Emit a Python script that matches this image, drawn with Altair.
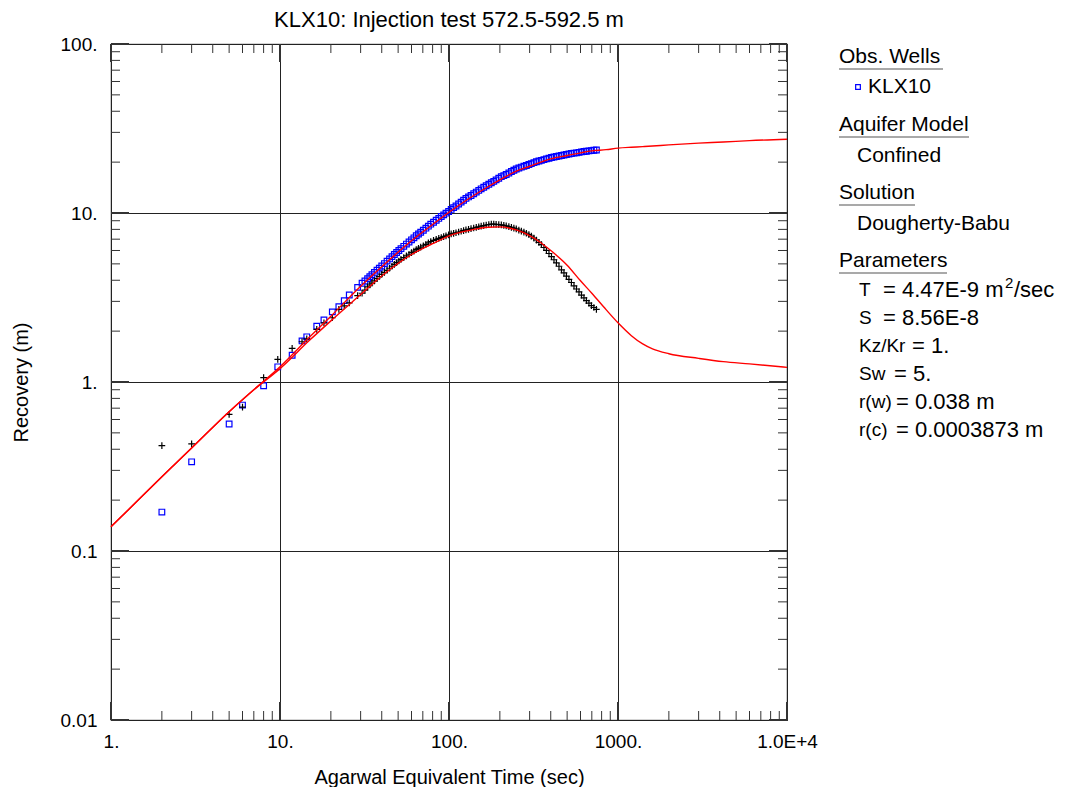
import altair as alt
import pandas as pd

# ---------------- data ----------------
title_text = "KLX10: Injection test 572.5-592.5 m"
x_title = "Agarwal Equivalent Time (sec)"
y_title = "Recovery (m)"

obs_time = [2, 3, 5, 6, 8, 9.7, 11.8, 13.5, 14.4, 16.5, 18.2, 20.4, 22.3, 24, 25.7,
            28.8, 30.6, 33, 35, 37.5, 40, 43, 46, 49, 52, 56, 60, 64, 68, 73, 78, 84,
            90, 96, 103, 110, 118, 126, 135, 145, 155, 166, 178, 190, 204, 218, 234,
            250, 268, 287, 307, 329, 352, 377, 404, 432, 463, 495, 530, 568, 608,
            650, 696, 745]
obs_recovery = [0.17, 0.337, 0.564, 0.73, 0.95, 1.23, 1.44, 1.75, 1.85, 2.14, 2.33, 2.6,
                2.79, 3.03, 3.27, 3.63, 3.84, 4.09, 4.31, 4.59, 4.86, 5.19, 5.52, 5.84,
                6.15, 6.55, 6.94, 7.33, 7.69, 8.13, 8.59, 9.06, 9.53, 9.98, 10.5, 11.0,
                11.6, 12.2, 12.7, 13.3, 13.9, 14.5, 15.1, 15.7, 16.4, 16.9, 17.6, 18.2,
                18.7, 19.1, 19.6, 20.1, 20.5, 20.9, 21.3, 21.6, 21.9, 22.2, 22.5, 22.7,
                23.0, 23.2, 23.4, 23.6]
obs_derivative = [0.42, 0.43, 0.644, 0.71, 1.06, 1.36, 1.58, 1.73, 1.80, 2.05, 2.24, 2.40,
                  2.69, 2.82, 2.94, 3.24, 3.35, 3.65, 3.85, 4.09, 4.33, 4.58, 4.84, 5.09,
                  5.31, 5.57, 5.83, 6.07, 6.28, 6.53, 6.78, 6.98, 7.16, 7.33, 7.52, 7.64,
                  7.80, 7.94, 8.09, 8.22, 8.37, 8.49, 8.61, 8.57, 8.51, 8.39, 8.22, 8.05,
                  7.82, 7.59, 7.29, 6.92, 6.50, 6.01, 5.52, 5.07, 4.61, 4.23, 3.88, 3.55,
                  3.27, 3.03, 2.83, 2.69]

# additional (denser) readings in the later part of the test
obs_time_2 = [31.8, 34, 36.2, 38.7, 41.5, 44.5, 47.5, 50.5, 54, 58, 62, 66, 70.5, 75.5,
              81, 87, 93, 99.5, 106.5, 114, 122, 130.5, 140, 150, 160.5, 172, 184, 197,
              211, 226, 242, 259, 277.5, 297, 318, 340.5, 364.5, 390.5, 418, 447.5, 479,
              512.5, 549, 588, 629, 673, 720]
obs_recovery_2 = [3.96, 4.20, 4.45, 4.72, 5.02, 5.35, 5.68, 6.0, 6.35, 6.74, 7.13, 7.51,
                  7.91, 8.36, 8.82, 9.29, 9.75, 10.2, 10.75, 11.3, 11.9, 12.45, 13.0, 13.6,
                  14.2, 14.8, 15.4, 16.05, 16.65, 17.25, 17.9, 18.45, 18.9, 19.35, 19.85,
                  20.3, 20.7, 21.1, 21.45, 21.75, 22.05, 22.35, 22.6, 22.85, 23.1, 23.3,
                  23.5]
obs_derivative_2 = [3.50, 3.75, 3.97, 4.21, 4.45, 4.71, 4.96, 5.2, 5.44, 5.7, 5.95, 6.17,
                    6.4, 6.65, 6.88, 7.07, 7.24, 7.42, 7.58, 7.72, 7.87, 8.01, 8.15, 8.29,
                    8.43, 8.55, 8.6, 8.54, 8.45, 8.3, 8.13, 7.93, 7.7, 7.44, 7.1, 6.71,
                    6.25, 5.76, 5.29, 4.84, 4.42, 4.05, 3.71, 3.41, 3.15, 2.93, 2.76]

model_time = [1, 1.5, 2, 3, 5, 7, 10, 15, 20, 30, 40, 60, 80, 100, 130, 170, 200, 250,
              300, 350, 400, 500, 600, 700, 850, 1000, 1200, 1400, 1600, 2000, 3000, 4200,
              6000, 10000]
model_recovery = [0.139, 0.207, 0.275, 0.407, 0.667, 0.90, 1.23, 1.85, 2.45, 3.69, 4.81,
                  6.85, 8.55, 10.1, 12.1, 14.3, 15.7, 17.7, 18.9, 20.0, 20.9, 21.9, 22.7,
                  23.3, 23.7, 24.2, 24.5, 24.7, 24.9, 25.3, 25.9, 26.3, 26.8, 27.3]
model_derivative = [0.139, 0.207, 0.275, 0.407, 0.667, 0.90, 1.20, 1.77, 2.30, 3.29, 4.24,
                    5.68, 6.58, 7.33, 7.87, 8.24, 8.28, 7.94, 7.35, 6.67, 6.00, 4.91, 3.97,
                    3.35, 2.68, 2.24, 1.88, 1.68, 1.57, 1.47, 1.38, 1.32, 1.28, 1.22]

major_x = [1, 10, 100, 1000, 10000]
major_y = [0.01, 0.1, 1, 10, 100]
minor_x = [2, 3, 4, 5, 6, 7, 8, 9, 20, 30, 40, 50, 60, 70, 80, 90,
           200, 300, 400, 500, 600, 700, 800, 900, 2000, 3000, 4000, 5000, 6000, 7000, 8000, 9000]
minor_y = [0.02, 0.03, 0.04, 0.05, 0.06, 0.07, 0.08, 0.09, 0.2, 0.3, 0.4, 0.5, 0.6, 0.7, 0.8, 0.9,
           2, 3, 4, 5, 6, 7, 8, 9, 20, 30, 40, 50, 60, 70, 80, 90]

legend_well = "KLX10"
legend_model = "Confined"
legend_solution = "Dougherty-Babu"
param_names = ["T", "S", "Kz/Kr", "Sw", "r(w)", "r(c)"]
param_values = ["= 4.47E-9 m", "= 8.56E-8", "= 1.", "= 5.", "= 0.038 m", "= 0.0003873 m"]

# ---------------- layout constants ----------------
W = 676
H = 676
FONT = "Liberation Sans"

obs_df = pd.DataFrame({"t": obs_time + obs_time_2,
                       "rec": obs_recovery + obs_recovery_2,
                       "der": obs_derivative + obs_derivative_2})
model_df = pd.DataFrame({"t": model_time, "rec": model_recovery, "der": model_derivative})

xscale = alt.Scale(type="log", domain=[1, 10000], nice=False)
yscale = alt.Scale(type="log", domain=[0.01, 100], nice=False)

x_axis = alt.Axis(values=major_x, grid=True, gridColor="#222222", gridWidth=1, ticks=False,
                  domain=False, labelExpr="datum.value >= 10000 ? '1.0E+4' : datum.value + '.'",
                  labelFont=FONT, labelFontSize=19, labelColor="black", labelPadding=12,
                  labelFlush=False, labelOverlap=False, labelBound=False,
                  title=x_title, titleFont=FONT, titleFontSize=20, titleFontWeight="normal",
                  titleColor="black", titleY=57, titleBaseline="middle")
y_axis = alt.Axis(values=major_y, grid=True, gridColor="#222222", gridWidth=1, ticks=False,
                  domain=False,
                  labelExpr="datum.value >= 1 ? datum.value + '.' : '' + datum.value",
                  labelFont=FONT, labelFontSize=19, labelColor="black", labelPadding=14,
                  labelFlush=False, labelOverlap=False, labelBound=False,
                  title=y_title, titleFont=FONT, titleFontSize=20, titleFontWeight="normal",
                  titleColor="black", titleX=-90, titleY=H / 2, titleAlign="center",
                  titleBaseline="middle", titleAngle=270)


def X(field):
    return alt.X(field, scale=xscale, axis=x_axis)


def Y(field):
    return alt.Y(field, scale=yscale, axis=y_axis)


blue = alt.Chart(obs_df).mark_point(shape="square", filled=False, color="#0000ff",
                                    size=32, strokeWidth=1.2, opacity=1).encode(
    x=X("t:Q"), y=Y("rec:Q"))
black = alt.Chart(obs_df).mark_point(shape="M-1,0L1,0M0,-1L0,1", filled=False, color="black",
                                     size=45, strokeWidth=1.2, opacity=1).encode(
    x=X("t:Q"), y=Y("der:Q"))
red_rec = alt.Chart(model_df).mark_line(color="#ff0000", strokeWidth=1.4,
                                        interpolate="monotone").encode(
    x=X("t:Q"), y=Y("rec:Q"))
red_der = alt.Chart(model_df).mark_line(color="#ff0000", strokeWidth=1.4,
                                        interpolate="monotone").encode(
    x=X("t:Q"), y=Y("der:Q"))

# tick marks (inward) on all four sides
mx = pd.DataFrame({"v": minor_x})
my = pd.DataFrame({"v": minor_y})
Mx = pd.DataFrame({"v": major_x})
My = pd.DataFrame({"v": major_y})
tick_col = "#333333"


def xticks(df, y0, y1, w):
    return alt.Chart(df).mark_rule(color=tick_col, strokeWidth=w).encode(
        x=X("v:Q"), y=alt.value(y0), y2=alt.value(y1))


def yticks(df, x0, x1, w):
    return alt.Chart(df).mark_rule(color=tick_col, strokeWidth=w).encode(
        y=Y("v:Q"), x=alt.value(x0), x2=alt.value(x1))


ticks = [
    xticks(mx, 0, 9, 1), xticks(mx, H, H - 9, 1),
    yticks(my, 0, 9, 1), yticks(my, W, W - 9, 1),
    xticks(Mx, 0, 18, 2), xticks(Mx, H, H - 18, 2),
    yticks(My, 0, 18, 2), yticks(My, W, W - 18, 2),
]

one = pd.DataFrame({"a": [0]})


def txt(s, x, y, size=20, align="left"):
    return alt.Chart(one).mark_text(text=s, font=FONT, fontSize=size, color="black",
                                    align=align, baseline="middle").encode(
        x=alt.value(x), y=alt.value(y))


def uline(x0, x1, y):
    return alt.Chart(one).mark_rule(color="#555555", strokeWidth=1.2).encode(
        x=alt.value(x0), x2=alt.value(x1), y=alt.value(y))


LX = 728
annots = [
    txt(title_text, W / 2, -24, 22, "center"),
    txt("Obs. Wells", LX, 13, 21), uline(LX, 832, 25),
    alt.Chart(one).mark_point(shape="square", filled=False, color="#0000ff", size=22,
                              strokeWidth=1.2, opacity=1).encode(
        x=alt.value(747), y=alt.value(43)),
    txt(legend_well, 757, 43, 21),
    txt("Aquifer Model", LX, 81, 21), uline(LX, 858, 93),
    txt(legend_model, 746, 112, 21),
    txt("Solution", LX, 149, 21), uline(LX, 804, 161),
    txt(legend_solution, 746, 180, 21),
    txt("Parameters", LX, 217, 21), uline(LX, 836, 229),
]
py = [246, 274, 302, 330, 358, 386]
eq_x = [772, 772, 801, 783, 785, 785]
for name, val, yy, ex in zip(param_names, param_values, py, eq_x):
    annots.append(txt(name, 748, yy, 19))
    annots.append(txt(val, ex, yy, 22))
# superscript of m^2/sec
annots.append(txt("2", 894, 239, 15))
annots.append(txt("/sec", 903, 246, 22))

chart = alt.layer(blue, black, red_rec, red_der, *ticks, *annots).properties(
    width=W, height=H,
    autosize=alt.AutoSizeParams(type="none"),
    padding={"left": 103, "top": 36, "right": 289, "bottom": 67},
).configure_view(stroke="#555555", strokeWidth=1.2)

chart.save("out.html", embed_options={"renderer": "svg", "actions": False})
